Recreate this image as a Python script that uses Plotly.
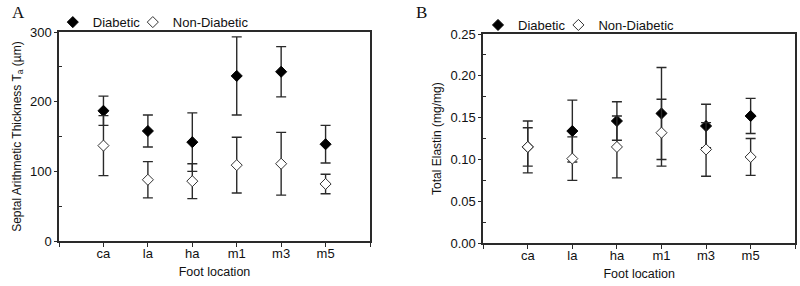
import plotly.graph_objects as go

locations = ["ca", "la", "ha", "m1", "m3", "m5"]
x_pos = [1, 2, 3, 4, 5, 6]
x_edges = [0, 1, 2, 3, 4, 5, 6, 7]

# Panel A: Septal arithmetic thickness (um), mean and SD
a_diab = [187, 158, 142, 237, 243, 139]
a_diab_sd = [21, 23, 42, 56, 36, 27]
a_non = [137, 88, 86, 109, 111, 82]
a_non_sd = [43, 26, 25, 40, 45, 14]

# Panel B: Total elastin (mg/mg), mean and SD
b_diab = [0.115, 0.134, 0.146, 0.155, 0.140, 0.152]
b_diab_sd = [0.031, 0.037, 0.023, 0.055, 0.026, 0.021]
b_non = [0.115, 0.101, 0.115, 0.132, 0.112, 0.103]
b_non_sd = [0.023, 0.026, 0.037, 0.040, 0.032, 0.022]

FONT = "Liberation Sans, Arial, sans-serif"
LC = "#2a2a2a"

fig = go.Figure()

def add_pair(xa, ya, leg_d, leg_n, d, dsd, n, nsd):
    fig.add_trace(go.Scatter(
        x=x_pos, y=d, mode="markers", name="Diabetic", showlegend=True,
        xaxis=xa, yaxis=ya, legend=leg_d,
        marker=dict(symbol="diamond", size=8.5, color="black", line=dict(color="black", width=1)),
        error_y=dict(type="data", array=dsd, visible=True, color=LC, thickness=1.4, width=5),
    ))
    fig.add_trace(go.Scatter(
        x=x_pos, y=n, mode="markers", name="Non-Diabetic", showlegend=True,
        xaxis=xa, yaxis=ya, legend=leg_n,
        marker=dict(symbol="diamond", size=8.5, color="white", line=dict(color="#333", width=1)),
        error_y=dict(type="data", array=nsd, visible=True, color=LC, thickness=1.4, width=5),
    ))

add_pair("x", "y", "legend", "legend2", a_diab, a_diab_sd, a_non, a_non_sd)
add_pair("x2", "y2", "legend3", "legend4", b_diab, b_diab_sd, b_non, b_non_sd)

xcommon = dict(range=[0, 7], tickvals=x_pos, ticktext=locations, ticks="",
               minor=dict(tickvals=x_edges, ticks="outside", ticklen=4, tickcolor=LC),
               showline=True, linecolor=LC, linewidth=1.5,
               mirror=True, showgrid=False, zeroline=False, automargin=False,
               tickfont=dict(family=FONT, size=13, color="#111"),
               title=dict(text="Foot location", font=dict(family=FONT, size=12.5, color="#111"), standoff=7))

ycommon = dict(ticks="outside", ticklen=3, tickcolor=LC, showline=True, linecolor=LC, linewidth=1.5,
               mirror=True, showgrid=False, zeroline=False, automargin=False,
               tickfont=dict(family=FONT, size=13, color="#111"))

legcommon = dict(orientation="h", xanchor="left", yanchor="top",
                 font=dict(family=FONT, size=13, color="#111"), bgcolor="rgba(0,0,0,0)",
                 itemwidth=30, tracegroupgap=0, visible=True)

fig.update_layout(
    width=800, height=286,
    showlegend=True,
    margin=dict(l=0, r=0, t=0, b=0),
    paper_bgcolor="white", plot_bgcolor="white",
    xaxis=dict(domain=[0.0738, 0.4625], anchor="y", **xcommon),
    xaxis2=dict(domain=[0.604, 0.994], anchor="y2", **xcommon),
    yaxis=dict(domain=[0.157, 0.888], anchor="x", range=[0, 300], tickvals=[0, 100, 200, 300],
               minor=dict(tickvals=[50, 150, 250], ticks="inside", ticklen=3, tickcolor=LC),
               title=dict(text="Septal Arithmetic Thickness T<sub>a</sub> (µm)",
                          font=dict(family=FONT, size=12, color="#111"), standoff=6),
               **ycommon),
    yaxis2=dict(domain=[0.150, 0.881], anchor="x2", range=[0, 0.25],
                tickvals=[0, 0.05, 0.10, 0.15, 0.20, 0.25], tickformat=".2f",
                minor=dict(tickvals=[0.025, 0.075, 0.125, 0.175, 0.225], ticks="inside", ticklen=3, tickcolor=LC),
                title=dict(text="Total Elastin (mg/mg)",
                           font=dict(family=FONT, size=12, color="#111"), standoff=6),
                **ycommon),
    legend=dict(x=0.066, y=0.975, **legcommon),
    legend2=dict(x=0.166, y=0.975, **legcommon),
    legend3=dict(x=0.5975, y=0.965, **legcommon),
    legend4=dict(x=0.698, y=0.965, **legcommon),
    annotations=[
        dict(text="A", x=0.012, y=0.995, xref="paper", yref="paper", xanchor="left", yanchor="top",
             showarrow=False, font=dict(family="Liberation Serif, Times New Roman, serif", size=17, color="#111")),
        dict(text="B", x=0.518, y=0.995, xref="paper", yref="paper", xanchor="left", yanchor="top",
             showarrow=False, font=dict(family="Liberation Serif, Times New Roman, serif", size=17, color="#111")),
    ],
)

fig.write_html("out.html", config={"displayModeBar": False},
               post_script="document.body.style.margin='0px';")
